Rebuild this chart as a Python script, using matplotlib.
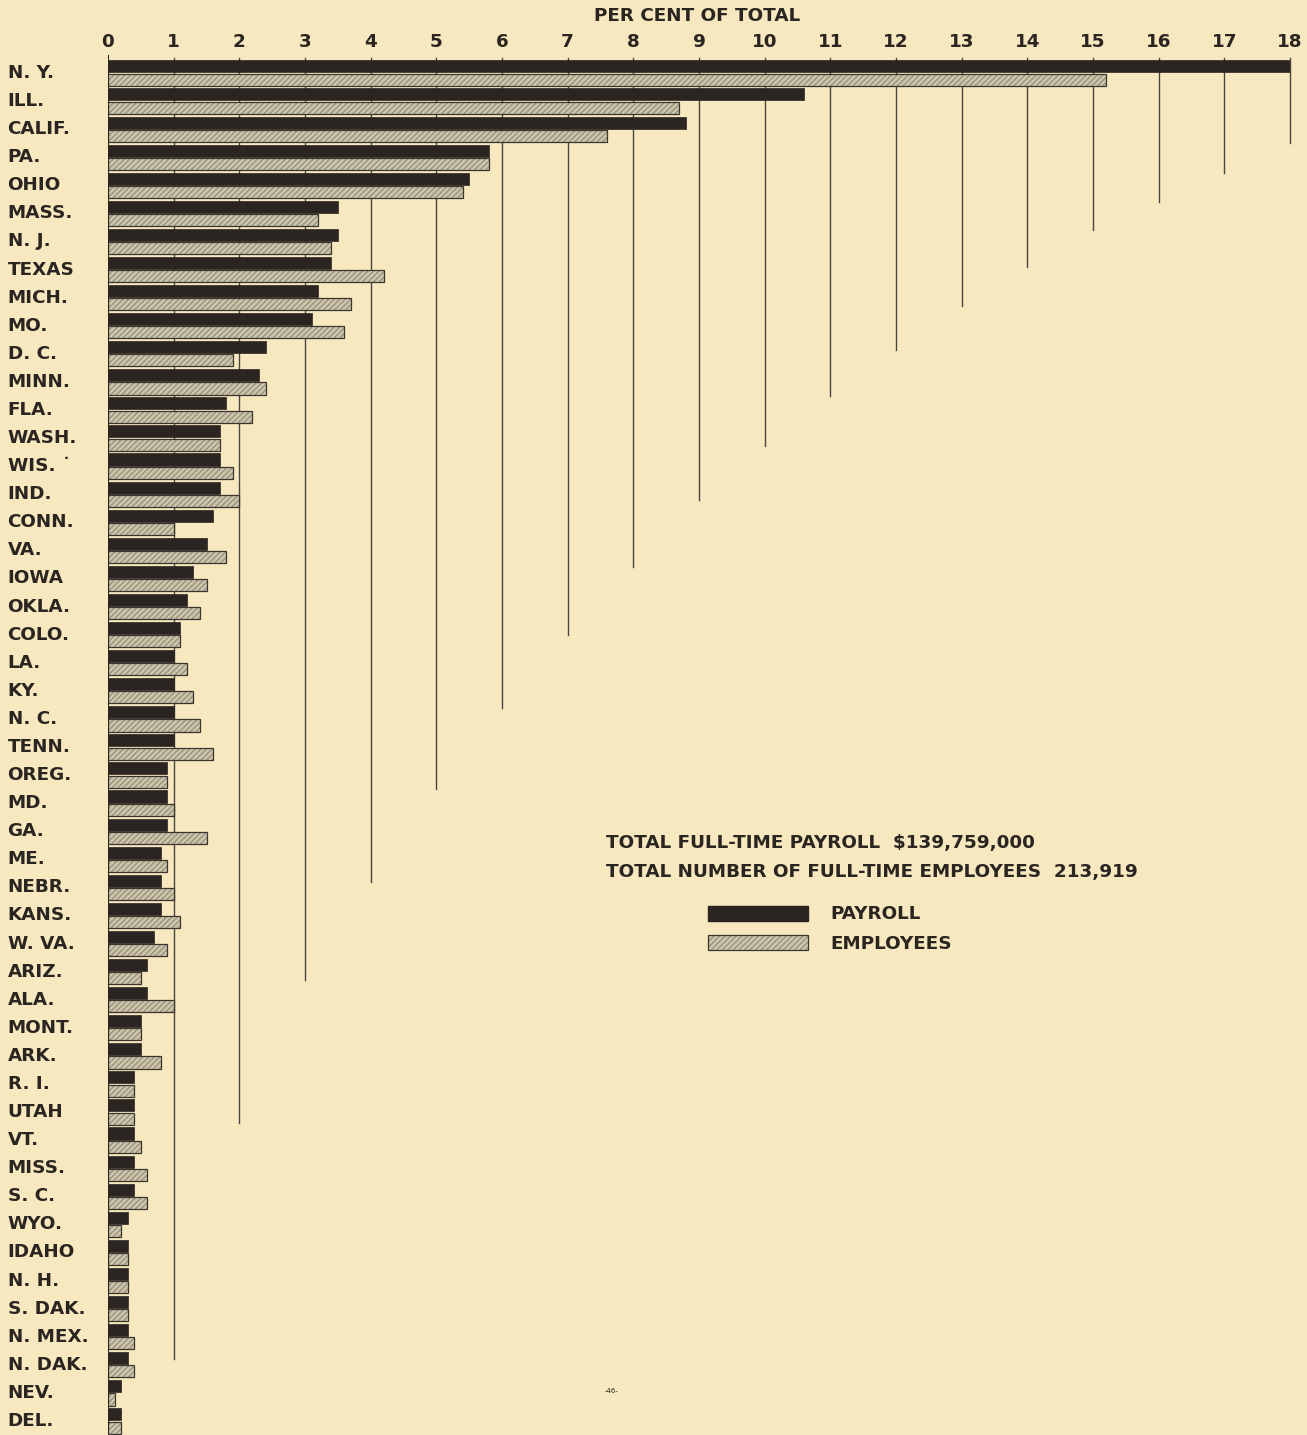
import matplotlib
matplotlib.use("Agg")
import matplotlib.pyplot as plt
import matplotlib.patches as mpatches
import numpy as np

states = ["N. Y.", "ILL.", "CALIF.", "PA.", "OHIO", "MASS.", "N. J.", "TEXAS", "MICH.", "MO.",
          "D. C.", "MINN.", "FLA.", "WASH.", "WIS. ˙", "IND.", "CONN.", "VA.", "IOWA", "OKLA.",
          "COLO.", "LA.", "KY.", "N. C.", "TENN.", "OREG.", "MD.", "GA.", "ME.", "NEBR.",
          "KANS.", "W. VA.", "ARIZ.", "ALA.", "MONT.", "ARK.", "R. I.", "UTAH", "VT.", "MISS.",
          "S. C.", "WYO.", "IDAHO", "N. H.", "S. DAK.", "N. MEX.", "N. DAK.", "NEV.", "DEL."]

payroll = [18.0, 10.6, 8.8, 5.8, 5.5, 3.5, 3.5, 3.4, 3.2, 3.1,
           2.4, 2.3, 1.8, 1.7, 1.7, 1.7, 1.6, 1.5, 1.3, 1.2,
           1.1, 1.0, 1.0, 1.0, 1.0, 0.9, 0.9, 0.9, 0.8, 0.8,
           0.8, 0.7, 0.6, 0.6, 0.5, 0.5, 0.4, 0.4, 0.4, 0.4,
           0.4, 0.3, 0.3, 0.3, 0.3, 0.3, 0.3, 0.2, 0.2]

employees = [15.2, 8.7, 7.6, 5.8, 5.4, 3.2, 3.4, 4.2, 3.7, 3.6,
             1.9, 2.4, 2.2, 1.7, 1.9, 2.0, 1.0, 1.8, 1.5, 1.4,
             1.1, 1.2, 1.3, 1.4, 1.6, 0.9, 1.0, 1.5, 0.9, 1.0,
             1.1, 0.9, 0.5, 1.0, 0.5, 0.8, 0.4, 0.4, 0.5, 0.6,
             0.6, 0.2, 0.3, 0.3, 0.3, 0.4, 0.4, 0.1, 0.2]

ticks = list(range(0, 19))
# row position (in state-row units) where each vertical guide line for 1..18 ends
guide_ends = [45.8, 37.4, 32.3, 28.8, 25.5, 22.6, 20.0, 17.6, 15.2,
              13.3, 11.5, 9.85, 8.3, 6.9, 5.6, 4.6, 3.55, 2.5]

BG = "#f7e8bf"
DARK = "#2a2520"
LIGHT = "#cdc6ad"
FS = 13.2

fig = plt.figure(figsize=(13.07, 14.35), dpi=100, facecolor=BG)
ax = fig.add_axes([108 / 1307, 0.0, (1290 - 108) / 1307, 1 - 55 / 1435])
ax.set_facecolor(BG)

y = np.arange(len(states))
h = 0.43
ax.set_xlim(0, 18)
ax.set_ylim(48.5, -0.64)

# guide lines
for t, yend in zip(ticks[1:], guide_ends):
    ax.plot([t, t], [-0.55, yend], color="#4a4540", lw=1.0, zorder=1, clip_on=False)

ax.barh(y - 0.235, payroll, height=h, color=DARK, edgecolor=DARK, lw=0.5, zorder=3)
ax.barh(y + 0.235, employees, height=h, color=LIGHT, edgecolor="#9a927c", hatch="//////",
        lw=0, zorder=3)
ax.barh(y + 0.235, employees, height=h, fill=False, edgecolor="#3a352e", lw=0.9, zorder=4)

ax.axvline(0, color="#2a2520", lw=1.5, zorder=5)

for s in ax.spines.values():
    s.set_visible(False)
ax.set_xticks([])
ax.set_yticks([])

fp = dict(family="DejaVu Sans", color="#2a2520", fontweight="bold")
for t in ticks:
    fig.text((108 + t * (1290 - 108) / 18) / 1307, 1 - 42 / 1435, str(t), ha="center",
             va="center", fontsize=FS, **fp)
fig.text(697 / 1307, 1 - 16 / 1435, "PER CENT OF TOTAL", ha="center", va="center",
         fontsize=FS, **fp)

for i, s in enumerate(states):
    ax.text(-1.53, i, s, ha="left", va="center", fontsize=FS, clip_on=False, **fp)

fig.text(606 / 1307, 1 - 843 / 1435, "TOTAL FULL-TIME PAYROLL  $139,759,000",
         ha="left", va="center", fontsize=FS, **fp)
fig.text(606 / 1307, 1 - 872 / 1435, "TOTAL NUMBER OF FULL-TIME EMPLOYEES  213,919",
         ha="left", va="center", fontsize=FS, **fp)

# legend swatches
lx0, lw_ = 708 / 1307, 100 / 1307
fig.patches.append(mpatches.Rectangle((lx0, 1 - 921 / 1435), lw_, 15 / 1435,
                                      transform=fig.transFigure, facecolor=DARK,
                                      edgecolor=DARK, figure=fig))
fig.patches.append(mpatches.Rectangle((lx0, 1 - 950 / 1435), lw_, 15 / 1435,
                                      transform=fig.transFigure, facecolor=LIGHT,
                                      edgecolor="#9a927c", hatch="//////", lw=0, figure=fig))
fig.patches.append(mpatches.Rectangle((lx0, 1 - 950 / 1435), lw_, 15 / 1435,
                                      transform=fig.transFigure, fill=False,
                                      edgecolor="#3a352e", lw=0.9, figure=fig))
fig.text(830 / 1307, 1 - 914 / 1435, "PAYROLL", ha="left", va="center", fontsize=FS, **fp)
fig.text(830 / 1307, 1 - 944 / 1435, "EMPLOYEES", ha="left", va="center", fontsize=FS, **fp)

fig.text(612 / 1307, 1 - 1391 / 1435, "-46-", ha="center", va="center", fontsize=5,
         family="DejaVu Sans", color="#2a2520")

fig.savefig("out.png", dpi=100, facecolor=BG)
